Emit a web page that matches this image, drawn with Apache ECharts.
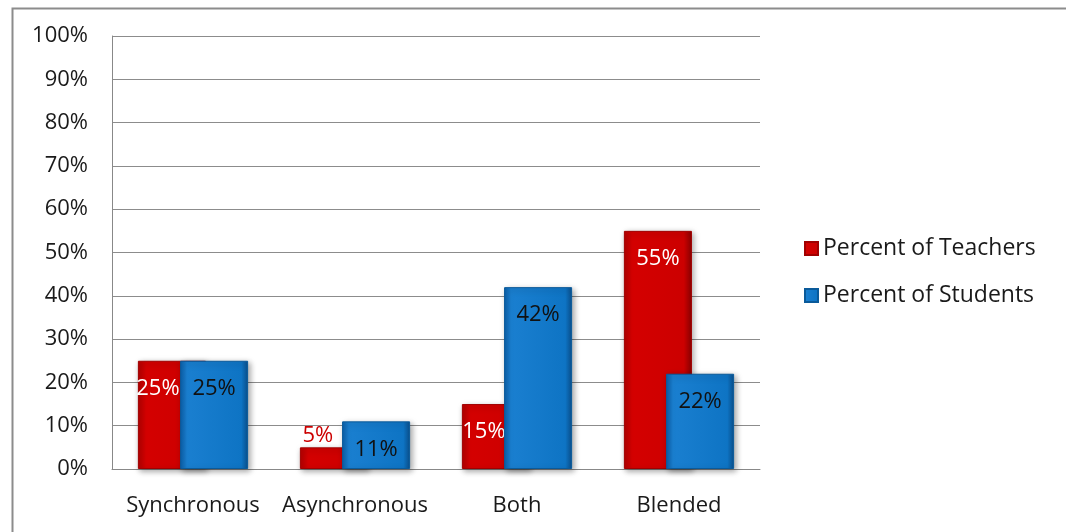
<!DOCTYPE html>
<html>
<head>
<meta charset="utf-8">
<script src="https://cdn.jsdelivr.net/npm/echarts@6/dist/echarts.min.js"></script>
<style>html,body{margin:0;padding:0;background:#fff;}#c{width:1066px;height:532px;}</style>
</head>
<body>
<div id="c"></div>
<script>
const categories = ['Synchronous', 'Asynchronous', 'Both', 'Blended'];
const teachers = [25, 5, 15, 55];
const students = [25, 11, 42, 22];
const yTicks = [0, 10, 20, 30, 40, 50, 60, 70, 80, 90, 100];

const FONT = '"Open Sans", "Noto Sans", sans-serif';
const FS = 22;
const chart = echarts.init(document.getElementById('c'));

const redFill = new echarts.graphic.LinearGradient(0, 0, 1, 0, [
  {offset: 0, color: '#b30000'}, {offset: 0.12, color: '#d40000'},
  {offset: 0.88, color: '#cc0000'}, {offset: 1, color: '#8a0000'}]);
const blueFill = new echarts.graphic.LinearGradient(0, 0, 1, 0, [
  {offset: 0, color: '#0a5fa8'}, {offset: 0.1, color: '#1a7fd0'},
  {offset: 0.9, color: '#0e74c4'}, {offset: 1, color: '#0a4f8c'}]);

// per-bar label tweaks for the teacher series (visible part of the overlapped bar)
const teacherLabelCfg = [
  {position: 'insideTop', offset: [-14, 12], color: '#ffffff'},
  {position: 'top', offset: [-16, 4], color: '#cc0000'},
  {position: 'insideTop', offset: [-12, 12], color: '#ffffff'},
  {position: 'insideTop', offset: [0, 12], color: '#ffffff'}
];

chart.setOption({
  animation: false,
  textStyle: {fontFamily: FONT},
  graphic: [{
    type: 'rect', left: 10, top: 6,
    shape: {width: 1055, height: 540},
    style: {fill: 'none', stroke: '#8c8c8c', lineWidth: 2}, silent: true, z: -10
  }],
  legend: {
    orient: 'vertical', left: 799, top: 232, itemGap: 24,
    itemWidth: 13, itemHeight: 13, icon: 'rect',
    textStyle: {fontSize: 23, color: '#1a1a1a', fontFamily: FONT},
    data: ['Percent of Teachers', 'Percent of Students']
  },
  grid: {left: 112, right: 306, top: 36, bottom: 63},
  xAxis: {
    type: 'category', data: categories,
    axisLine: {lineStyle: {color: '#888', width: 1}},
    axisTick: {show: false},
    axisLabel: {fontSize: FS, color: '#1a1a1a', margin: 26, interval: 0, fontFamily: FONT}
  },
  yAxis: {
    type: 'value', min: 0, max: 100, interval: 10,
    axisLine: {show: true, lineStyle: {color: '#888', width: 1}},
    axisTick: {show: false},
    splitLine: {lineStyle: {color: '#8c8c8c', width: 1}},
    axisLabel: {fontSize: FS, color: '#1a1a1a', margin: 24, fontFamily: FONT,
      formatter: v => yTicks.includes(v) ? v + '%' : ''}
  },
  series: [{
    name: 'Percent of Teachers', type: 'bar', barWidth: '42%', barGap: '-38%',
    itemStyle: {color: redFill, borderColor: '#a00000', borderWidth: 1,
      shadowColor: 'rgba(0,0,0,0.35)', shadowBlur: 6, shadowOffsetX: 2, shadowOffsetY: 2},
    data: teachers.map((v, i) => ({
      value: v,
      label: Object.assign({show: true, fontSize: FS, fontFamily: FONT,
        formatter: '{c}%'}, teacherLabelCfg[i])
    })),
    z: 2
  }, {
    name: 'Percent of Students', type: 'bar', barWidth: '42%',
    itemStyle: {color: blueFill, borderColor: '#0a5a9a', borderWidth: 1,
      shadowColor: 'rgba(0,0,0,0.35)', shadowBlur: 6, shadowOffsetX: 2, shadowOffsetY: 2},
    label: {show: true, position: 'insideTop', offset: [0, 12], fontSize: FS,
      color: '#111', fontFamily: FONT, formatter: '{c}%'},
    data: students,
    z: 3
  }],
  color: ['#cc0000', '#0e74c4']
});
</script>
</body>
</html>
